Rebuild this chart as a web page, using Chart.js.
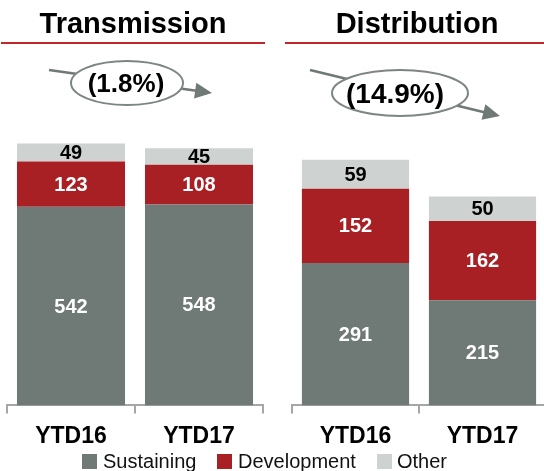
<!DOCTYPE html>
<html>
<head>
<meta charset="utf-8">
<script src="https://cdn.jsdelivr.net/npm/chart.js@4"></script>
<style>
    html, body { margin: 0; padding: 0; background: #fff; overflow: hidden; }
    body { width: 544px; height: 471px; position: relative; font-family: Arial, "Liberation Sans", sans-serif; }
    .panel { position: absolute; top: 0; height: 471px; }
    #transPanel { left: 0; width: 272px; }
    #distPanel { left: 285px; width: 264px; }
    #legend { position: absolute; left: 0; top: 450px; width: 544px; height: 22px; font-size: 20px; color: #111; }
    .item { position: absolute; top: 0; line-height: 22px; white-space: nowrap; }
    .swatch { position: absolute; top: 4px; width: 15px; height: 15px; }
</style>
</head>
<body>
<div class="panel" id="transPanel"><canvas id="transChart"></canvas></div>
<div class="panel" id="distPanel"><canvas id="distChart"></canvas></div>
<div id="legend">
    <span class="swatch" style="left:82px;background:#6f7976"></span><span class="item" style="left:103px">Sustaining</span>
    <span class="swatch" style="left:217px;background:#a81f24"></span><span class="item" style="left:238px">Development</span>
    <span class="swatch" style="left:377px;background:#ced2d1"></span><span class="item" style="left:397px">Other</span>
</div>
<script>
// Chart data
const categories = ['YTD16', 'YTD17'];
const seriesNames = ['Sustaining', 'Development', 'Other'];

const transSustaining = [542, 548];
const transDevelopment = [123, 108];
const transOther = [49, 45];

const distSustaining = [291, 215];
const distDevelopment = [152, 162];
const distOther = [59, 50];

const panelTitles = ['Transmission', 'Distribution'];
const trendLabels = ['(1.8%)', '(14.9%)'];

const COLORS = {
    sustaining: '#6f7976',
    development: '#a81f24',
    other: '#ced2d1',
    accent: '#c0272d',
    axis: '#a6a6a6'
};
const FONT = 'Arial, "Liberation Sans", sans-serif';

/**
 * Draw the value inside each stacked segment
 */
const segmentLabels = {
    id: 'segmentLabels',
    afterDatasetsDraw(chart) {
        const ctx = chart.ctx;
        ctx.save();
        ctx.font = 'bold 20px ' + FONT;
        ctx.textAlign = 'center';
        ctx.textBaseline = 'middle';
        chart.data.datasets.forEach((ds, i) => {
            const meta = chart.getDatasetMeta(i);
            meta.data.forEach((bar, j) => {
                ctx.fillStyle = i === 2 ? '#000' : '#fff';
                ctx.fillText(String(ds.data[j]), bar.x, (bar.y + bar.base) / 2 + 1);
            });
        });
        ctx.restore();
    }
};

/**
 * Title, red rule and the trend ellipse with arrow
 */
const panelDecor = {
    id: 'panelDecor',
    afterDraw(chart) {
        const o = chart.options.plugins.panelDecor;
        const ctx = chart.ctx;
        ctx.save();
        // title
        ctx.fillStyle = '#000';
        ctx.font = 'bold 29px ' + FONT;
        ctx.textAlign = 'center';
        ctx.textBaseline = 'alphabetic';
        ctx.fillText(o.title, o.titleX, 33);
        // red rule
        ctx.strokeStyle = COLORS.accent;
        ctx.lineWidth = 2;
        ctx.beginPath();
        ctx.moveTo(o.ruleFrom, 43);
        ctx.lineTo(o.ruleTo, 43);
        ctx.stroke();
        // trend line with arrow head
        const [x1, y1] = o.arrowFrom;
        const [x2, y2] = o.arrowTo;
        const ang = Math.atan2(y2 - y1, x2 - x1);
        ctx.strokeStyle = COLORS.sustaining;
        ctx.fillStyle = COLORS.sustaining;
        ctx.lineWidth = 2.5;
        ctx.beginPath();
        ctx.moveTo(x1, y1);
        ctx.lineTo(x2 - 14 * Math.cos(ang), y2 - 14 * Math.sin(ang));
        ctx.stroke();
        ctx.beginPath();
        ctx.moveTo(x2, y2);
        ctx.lineTo(x2 - 17 * Math.cos(ang) + 8 * Math.sin(ang), y2 - 17 * Math.sin(ang) - 8 * Math.cos(ang));
        ctx.lineTo(x2 - 17 * Math.cos(ang) - 8 * Math.sin(ang), y2 - 17 * Math.sin(ang) + 8 * Math.cos(ang));
        ctx.closePath();
        ctx.fill();
        // ellipse
        const [cx, cy, rx, ry] = o.ellipse;
        ctx.beginPath();
        ctx.ellipse(cx, cy, rx, ry, 0, 0, Math.PI * 2);
        ctx.fillStyle = '#fff';
        ctx.fill();
        ctx.lineWidth = 2;
        ctx.strokeStyle = '#7d8683';
        ctx.stroke();
        // label
        ctx.fillStyle = '#000';
        ctx.font = 'bold ' + o.labelSize + 'px ' + FONT;
        ctx.textBaseline = 'middle';
        ctx.fillText(o.label, o.labelPos[0], o.labelPos[1]);
        ctx.restore();
    }
};

function buildDatasets(sustaining, development, other) {
    return [
        { label: seriesNames[0], data: sustaining, backgroundColor: COLORS.sustaining },
        { label: seriesNames[1], data: development, backgroundColor: COLORS.development },
        { label: seriesNames[2], data: other, backgroundColor: COLORS.other }
    ];
}

function createPanel(canvasId, datasets, yMax, padding, decor) {
    return new Chart(document.getElementById(canvasId), {
        type: 'bar',
        data: { labels: categories, datasets: datasets },
        options: {
            responsive: true,
            maintainAspectRatio: false,
            animation: false,
            layout: { padding: padding },
            datasets: {
                bar: { categoryPercentage: 1, barPercentage: 0.844 }
            },
            scales: {
                x: {
                    stacked: true,
                    grid: {
                        offset: true,
                        drawOnChartArea: false,
                        drawTicks: true,
                        tickLength: 8,
                        color: COLORS.axis,
                        lineWidth: 2
                    },
                    border: { color: COLORS.axis, width: 2 },
                    ticks: {
                        color: '#000',
                        padding: 9,
                        font: { family: FONT, size: 23, weight: 'bold' }
                    }
                },
                y: {
                    stacked: true,
                    display: false,
                    min: 0,
                    max: yMax
                }
            },
            plugins: {
                legend: { display: false },
                tooltip: { enabled: false },
                panelDecor: decor
            }
        },
        plugins: [segmentLabels, panelDecor]
    });
}

createPanel('transChart',
    buildDatasets(transSustaining, transDevelopment, transOther),
    942,
    { top: 60, left: 7, right: 9, bottom: 12 },
    {
        title: panelTitles[0], titleX: 133, ruleFrom: 1, ruleTo: 265,
        arrowFrom: [49, 70], arrowTo: [212, 93],
        ellipse: [127, 83, 56, 22],
        label: trendLabels[0], labelSize: 26, labelPos: [126, 85]
    });

createPanel('distChart',
    buildDatasets(distSustaining, distDevelopment, distOther),
    706,
    { top: 60, left: 7, right: 3, bottom: 12 },
    {
        title: panelTitles[1], titleX: 132, ruleFrom: 0, ruleTo: 264,
        arrowFrom: [25, 70], arrowTo: [215, 116],
        ellipse: [115, 93, 68, 23],
        label: trendLabels[1], labelSize: 28, labelPos: [110, 95]
    });
</script>
</body>
</html>
